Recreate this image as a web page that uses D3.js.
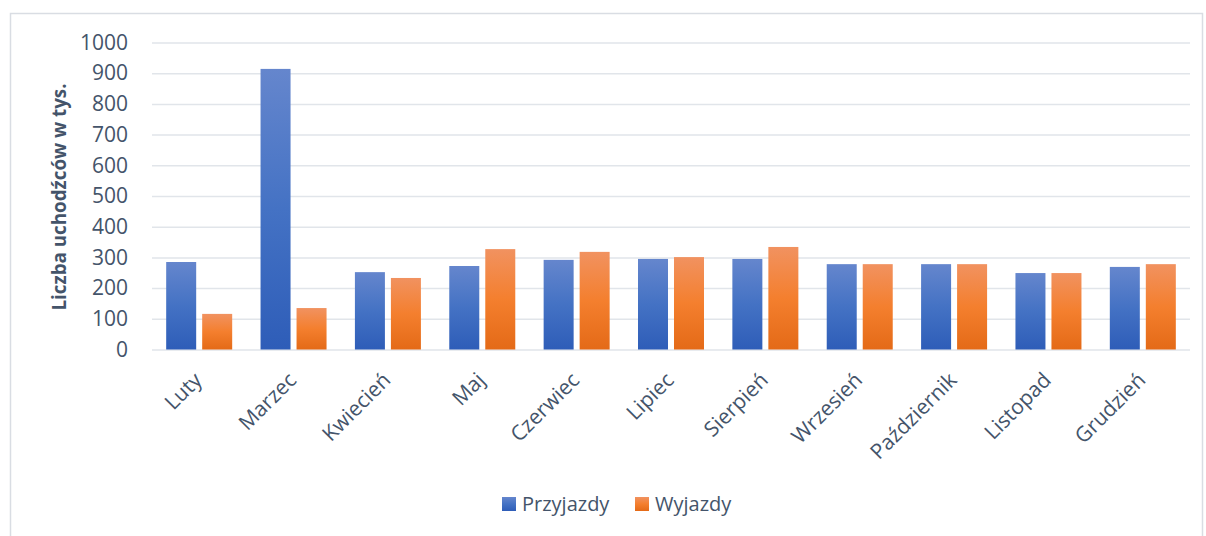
<!DOCTYPE html>
<html>
<head>
<meta charset="utf-8">
<script src="https://cdn.jsdelivr.net/npm/d3@7"></script>
<style>
  body { margin: 0; background: #fff; }
  text { font-family: "Open Sans", sans-serif; }
</style>
</head>
<body>
<script>
const width = 1206
const height = 536
const margin = ({top: 42.5, right: 16, bottom: 186.5, left: 152})

const months = ["Luty", "Marzec", "Kwiecień", "Maj", "Czerwiec", "Lipiec", "Sierpień",
                "Wrzesień", "Październik", "Listopad", "Grudzień"]
const series = ["Przyjazdy", "Wyjazdy"]
const arrivals = [285, 914, 252, 272, 292, 295, 295, 278, 278, 249, 269]
const departures = [116, 135, 233, 327, 318, 301, 334, 278, 278, 249, 278]
const yTicks = [0, 100, 200, 300, 400, 500, 600, 700, 800, 900, 1000]

const data = months.map((m, i) => ({month: m, Przyjazdy: arrivals[i], Wyjazdy: departures[i]}))

const textColor = "#44546A"

const svg = d3.select("body").append("svg").attr("width", width).attr("height", height)

// gradients like the office chart fill
const defs = svg.append("defs")
const grads = {
    Przyjazdy: ["#6586CD", "#4472C4", "#2E5DB8"],
    Wyjazdy: ["#F19260", "#F47F2E", "#E46A17"]
}
series.forEach((s, i) => {
    const g = defs.append("linearGradient").attr("id", "grad" + i)
        .attr("x1", 0).attr("y1", 0).attr("x2", 0).attr("y2", 1)
    g.append("stop").attr("offset", "0%").attr("stop-color", grads[s][0])
    g.append("stop").attr("offset", "50%").attr("stop-color", grads[s][1])
    g.append("stop").attr("offset", "100%").attr("stop-color", grads[s][2])
})

// outer frame
svg.append("rect")
    .attr("x", 10.5).attr("y", 13.5)
    .attr("width", 1192).attr("height", 530)
    .attr("fill", "none")
    .attr("stroke", "#D9DDE3")
    .attr("stroke-width", 1.5)

const y = d3.scaleLinear()
    .domain([0, 1000])
    .range([height - margin.bottom, margin.top])

const x0 = d3.scaleBand()
    .domain(months)
    .range([margin.left, width - margin.right])

const x1 = d3.scaleBand()
    .domain(series)
    .range([-33, 33])
    .paddingInner(1 / 6)

const color = d3.scaleOrdinal().domain(series).range(["url(#grad0)", "url(#grad1)"])

// gridlines + y labels
svg.append("g")
    .attr("transform", `translate(${margin.left},0)`)
    .call(d3.axisLeft(y).tickValues(yTicks).tickFormat(d3.format("d"))
        .tickSize(-(width - margin.left - margin.right)).tickPadding(24))
    .call(g => g.select(".domain").remove())
    .call(g => g.selectAll(".tick line").attr("stroke", "#E1E5EA").attr("stroke-width", 1.5))
    .call(g => g.selectAll(".tick text")
        .attr("fill", textColor)
        .attr("font-size", 21)
        .attr("font-family", "'Open Sans', sans-serif"))

// bars
svg.append("g")
  .selectAll("g")
  .data(data)
  .join("g")
    .attr("transform", d => `translate(${x0(d.month) + x0.bandwidth() / 2},0)`)
  .selectAll("rect")
  .data(d => series.map(s => ({key: s, value: d[s]})))
  .join("rect")
    .attr("x", d => x1(d.key))
    .attr("y", d => y(d.value))
    .attr("width", x1.bandwidth())
    .attr("height", d => y(0) - y(d.value))
    .attr("fill", d => color(d.key))

// x labels rotated
svg.append("g")
    .attr("transform", `translate(0,${y(0)})`)
    .call(d3.axisBottom(x0).tickSize(0).tickPadding(0))
    .call(g => g.select(".domain").remove())
    .call(g => g.selectAll(".tick text")
        .attr("fill", textColor)
        .attr("font-size", 21)
        .attr("font-family", "'Open Sans', sans-serif")
        .attr("text-anchor", "end")
        .attr("dy", 0)
        .attr("transform", "translate(4,32) rotate(-45)"))

// y title
svg.append("text")
    .attr("transform", `translate(66,${(y(0) + y(1000)) / 2 + 1}) rotate(-90)`)
    .attr("text-anchor", "middle")
    .attr("fill", textColor)
    .attr("font-weight", "bold")
    .attr("font-size", 18.8)
    .text("Liczba uchodźców w tys.")

// legend
const legendX = [502, 635]
const legend = svg.append("g")
  .selectAll("g")
  .data(series)
  .join("g")
    .attr("transform", (d, i) => `translate(${legendX[i]},497)`)
legend.append("rect")
    .attr("width", 14).attr("height", 14)
    .attr("fill", d => color(d))
legend.append("text")
    .attr("x", 20).attr("y", 14)
    .attr("fill", textColor)
    .attr("font-size", 20)
    .text(d => d)
</script>
</body>
</html>
